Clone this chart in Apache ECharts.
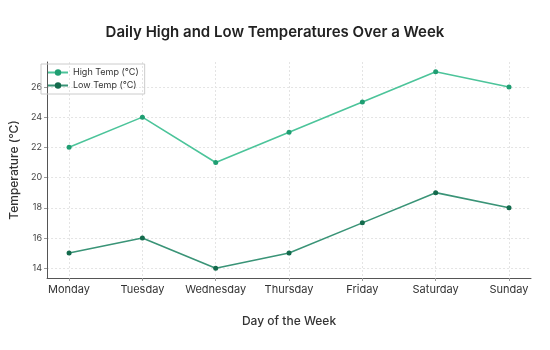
<!DOCTYPE html>
<html><head><meta charset="utf-8">
<script src="https://cdn.jsdelivr.net/npm/echarts@6/dist/echarts.min.js"></script>
<style>html,body{margin:0;padding:0;background:#fff}#c{width:550px;height:350px}</style>
</head><body><div id="c"></div>
<script>
const days = ['Monday','Tuesday','Wednesday','Thursday','Friday','Saturday','Sunday'];
const highTemps = [22, 24, 21, 23, 25, 27, 26];
const lowTemps = [15, 16, 14, 15, 17, 19, 18];
const yTicks = [14, 16, 18, 20, 22, 24, 26];
const xTicks = [0, 1, 2, 3, 4, 5, 6];

const chart = echarts.init(document.getElementById('c'));
const font = 'Inter, Roboto, sans-serif';
chart.setOption({
  animation: false,
  title: {
    text: 'Daily High and Low Temperatures Over a Week',
    left: 'center', top: 20,
    textStyle: {fontFamily: font, fontSize: 15, fontWeight: 600, color: '#222'}
  },
  legend: {
    left: 41, top: 64, orient: 'vertical', itemGap: 4,
    itemWidth: 20, itemHeight: 8,
    borderColor: '#ccc', borderWidth: 1, padding: [4, 6, 4, 6],
    textStyle: {fontFamily: font, fontSize: 9, color: '#333'},
    data: ['High Temp (°C)', 'Low Temp (°C)']
  },
  grid: {left: 37, right: 19, top: 62, bottom: 72},
  xAxis: {
    type: 'value', min: -0.3, max: 6.3,
    name: 'Day of the Week', nameLocation: 'middle', nameGap: 37,
    nameTextStyle: {fontFamily: font, fontSize: 12, fontWeight: 500, color: '#333'},
    axisLine: {show: true, onZero: false, lineStyle: {color: '#555', width: 1}},
    axisTick: {show: true, customValues: xTicks, length: 3, lineStyle: {color: '#999'}},
    axisLabel: {customValues: xTicks, formatter: v => days[Math.round(v)], fontFamily: font, fontSize: 11, color: '#333', margin: 6},
    splitLine: {show: true, lineStyle: {color: '#e4e4e4', type: [2, 2], width: 1}}
  },
  yAxis: {
    type: 'value', min: 13.35, max: 27.65,
    name: 'Temperature (°C)', nameLocation: 'middle', nameGap: 24,
    nameTextStyle: {fontFamily: font, fontSize: 12, fontWeight: 500, color: '#333'},
    axisLine: {show: true, onZero: false, lineStyle: {color: '#555', width: 1}},
    axisTick: {show: true, customValues: yTicks, length: 3, lineStyle: {color: '#999'}},
    axisLabel: {customValues: yTicks, fontFamily: font, fontSize: 9, color: '#444', margin: 5},
    splitLine: {show: true, lineStyle: {color: '#e4e4e4', type: [2, 2], width: 1}}
  },
  series: [
    {
      name: 'High Temp (°C)', type: 'line',
      data: highTemps.map((v, i) => [i, v]),
      symbol: 'circle', symbolSize: 5,
      lineStyle: {color: '#4cc49a', width: 1.6},
      itemStyle: {color: '#1f9e72'}
    },
    {
      name: 'Low Temp (°C)', type: 'line',
      data: lowTemps.map((v, i) => [i, v]),
      symbol: 'circle', symbolSize: 5,
      lineStyle: {color: '#3a9477', width: 1.6},
      itemStyle: {color: '#146b4d'}
    }
  ]
});
</script></body></html>
